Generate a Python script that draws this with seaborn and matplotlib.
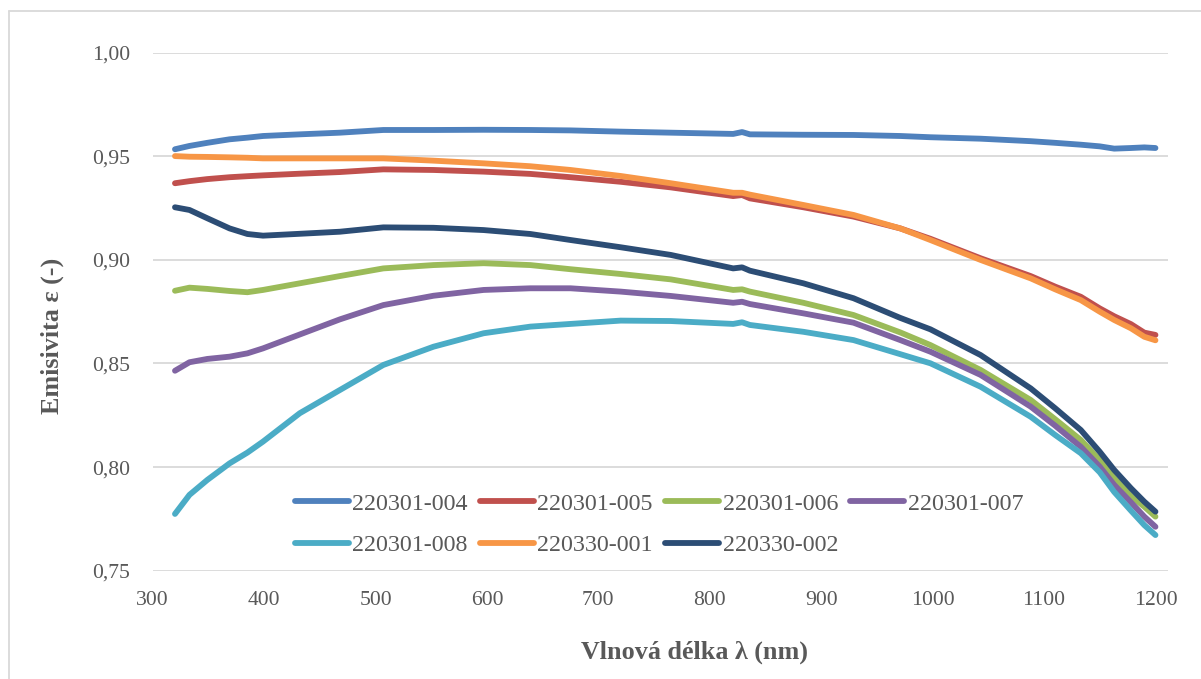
import numpy as np
import pandas as pd
import matplotlib
matplotlib.use("Agg")
import matplotlib.pyplot as plt
import seaborn as sns

wavelength = [320, 333, 349, 369, 385, 399, 432, 468, 507, 552, 597, 639, 675, 720,
              765, 821, 829, 836, 884, 929, 971, 998, 1043, 1088, 1110, 1133, 1150, 1163, 1178, 1190, 1200]

s_004 = [.9534, .9550, .9565, .9582, .9590, .9598, .9606, .9614, .9627, .9627, .9628, .9627, .9625, .9619,
         .9614, .9608, .9617, .9606, .9604, .9603, .9598, .9592, .9585, .9573, .9565, .9556, .9548, .9537, .9540, .9543, .9540]
s_005 = [.9370, .9380, .9390, .9399, .9404, .9408, .9416, .9424, .9437, .9434, .9426, .9415, .9399, .9377,
         .9350, .9308, .9313, .9297, .9254, .9209, .9152, .9102, .9008, .8922, .8871, .8822, .8766, .8728, .8690, .8649, .8638]
s_006 = [.8851, .8866, .8860, .8850, .8844, .8855, .8887, .8922, .8959, .8975, .8984, .8975, .8955, .8932,
         .8906, .8855, .8858, .8847, .8793, .8734, .8650, .8589, .8469, .8324, .8231, .8131, .8034, .7946, .7860, .7809, .7761]
s_007 = [.8465, .8506, .8522, .8533, .8549, .8573, .8640, .8713, .8782, .8827, .8855, .8863, .8863, .8847,
         .8826, .8793, .8798, .8787, .8742, .8697, .8613, .8557, .8445, .8292, .8200, .8098, .8002, .7914, .7830, .7761, .7712]
s_008 = [.7774, .7866, .7938, .8018, .8070, .8123, .8260, .8372, .8493, .8581, .8646, .8678, .8691, .8707,
         .8705, .8691, .8699, .8686, .8653, .8613, .8545, .8501, .8388, .8243, .8155, .8067, .7975, .7880, .7790, .7720, .7672]
s_001 = [.9501, .9498, .9497, .9495, .9493, .9490, .9490, .9490, .9490, .9479, .9466, .9452, .9434, .9405,
         .9370, .9324, .9324, .9315, .9265, .9217, .9152, .9096, .9000, .8911, .8858, .8806, .8750, .8710, .8670, .8629, .8612]
s_002 = [.9254, .9241, .9201, .9152, .9125, .9117, .9126, .9136, .9157, .9155, .9144, .9125, .9096, .9061,
         .9024, .8959, .8964, .8948, .8887, .8815, .8720, .8665, .8541, .8380, .8284, .8179, .8074, .7986, .7898, .7833, .7785]

series_names = ["220301-004", "220301-005", "220301-006", "220301-007",
                "220301-008", "220330-001", "220330-002"]
series_values = [s_004, s_005, s_006, s_007, s_008, s_001, s_002]
colors = ["#4F81BD", "#C0504D", "#9BBB59", "#8064A2", "#4BACC6", "#F79646", "#2C4D75"]

x_ticks = [300, 400, 500, 600, 700, 800, 900, 1000, 1100, 1200]
y_ticks = [0.75, 0.80, 0.85, 0.90, 0.95, 1.00]
y_tick_labels = ["0,75", "0,80", "0,85", "0,90", "0,95", "1,00"]

df = pd.concat([pd.DataFrame({"wl": wavelength, "eps": v, "series": n})
                for n, v in zip(series_names, series_values)], ignore_index=True)

sns.set_theme(style="white")
plt.rcParams["font.family"] = ["Liberation Serif", "DejaVu Serif"]
TXT = "#595959"
LW = 4.2

W, H = 1201, 679
fig = plt.figure(figsize=(W / 100, H / 100), dpi=100)
ax = fig.add_axes([152.7 / W, 1 - 570.7 / H, (1167.7 - 152.7) / W, (570.7 - 52.7) / H])

palette = dict(zip(series_names, colors))
sns.lineplot(data=df, x="wl", y="eps", hue="series", hue_order=series_names,
             palette=palette, estimator=None, sort=False, linewidth=LW, ax=ax,
             legend=True)
for ln in ax.get_lines():
    ln.set_solid_capstyle("round")
    ln.set_solid_joinstyle("round")

ax.set_xlim(300, 1211)
ax.set_ylim(0.75, 1.0)
ax.set_xticks(x_ticks)
ax.set_xticklabels([str(t) for t in x_ticks])
ax.set_yticks(y_ticks)
ax.set_yticklabels(y_tick_labels)
ax.tick_params(axis="both", length=0, labelsize=15.6, colors=TXT)
ax.tick_params(axis="x", pad=14.5)
ax.tick_params(axis="y", pad=16)
ax.grid(axis="y", color="#D9D9D9", linewidth=1.3)
ax.grid(axis="x", visible=False)
for s in ax.spines.values():
    s.set_visible(False)
ax.set_xlabel("")
ax.set_ylabel("")
ax.set_axisbelow(True)

handles, labels = ax.get_legend_handles_labels()
ax.get_legend().remove()
order = [0, 4, 1, 5, 2, 6, 3]
leg = ax.legend([handles[i] for i in order], [labels[i] for i in order], ncol=4,
                loc="center", bbox_to_anchor=(659 / W, 1 - 524.5 / H), bbox_transform=fig.transFigure,
                frameon=False, fontsize=17.3, handlelength=2.25, handletextpad=0.15,
                columnspacing=0.5, labelspacing=0.8, borderaxespad=0)
for t in leg.get_texts():
    t.set_color(TXT)
for h in leg.get_lines():
    h.set_linewidth(LW)
    h.set_solid_capstyle("round")

fig.text(695 / W, 1 - 652 / H, "Vlnová délka λ (nm)", ha="center", va="center",
         fontsize=18.8, fontweight="bold", color=TXT)
fig.text(52 / W, 1 - 336 / H, "Emisivita ε (-)", ha="center", va="center", rotation=90,
         fontsize=18.8, fontweight="bold", color=TXT)

# outer chart-area border (left and top visible)
fig.add_artist(plt.Line2D([8.5 / W, 8.5 / W], [0, 1 - 10.5 / H], transform=fig.transFigure,
                          color="#D9D9D9", linewidth=1.3))
fig.add_artist(plt.Line2D([8.5 / W, 1], [1 - 10.5 / H, 1 - 10.5 / H], transform=fig.transFigure,
                          color="#D9D9D9", linewidth=1.3))

fig.savefig("out.png", dpi=100)
